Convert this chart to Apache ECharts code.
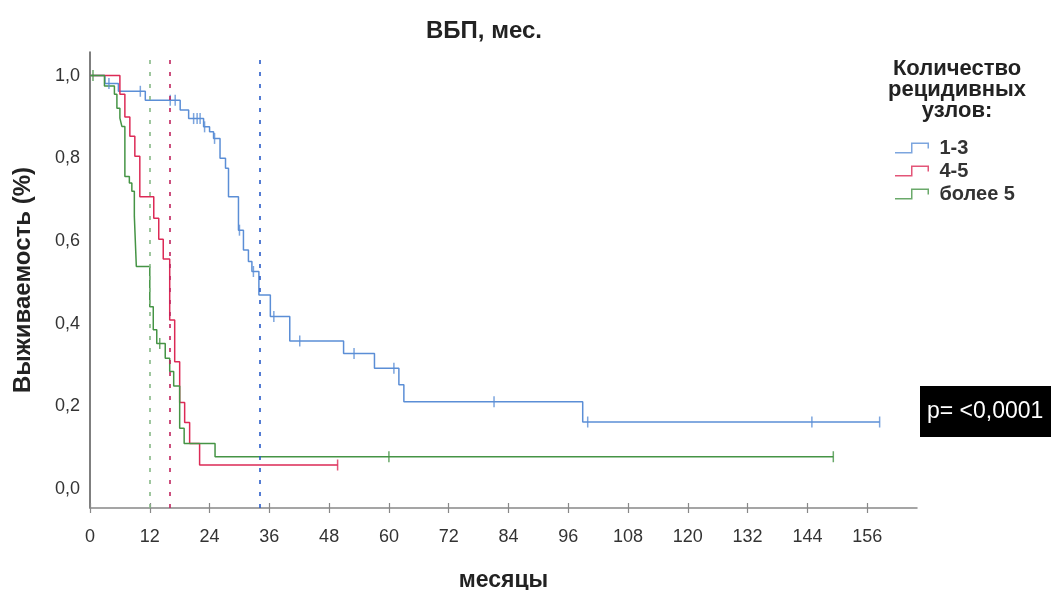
<!DOCTYPE html>
<html><head><meta charset="utf-8">
<script src="https://cdn.jsdelivr.net/npm/echarts@6/dist/echarts.min.js"></script>
<style>html,body{margin:0;padding:0;background:#fff}#c{width:1051px;height:590px}</style>
</head><body><div id="c"></div>
<script>
// ---- data ----
const groupNames = ['1-3', '4-5', 'более 5'];
const xTicks = [0, 12, 24, 36, 48, 60, 72, 84, 96, 108, 120, 132, 144, 156];
const yTicks = [0, 0.2, 0.4, 0.6, 0.8, 1.0];
const medians = [34, 16, 12];
// Kaplan–Meier steps: [months, survival]
const curve13 = [[0,1],[3.0,0.981],[5.7,0.962],[11.1,0.940],[18.1,0.917],[19.8,0.896],[22.8,0.876],[24.0,0.864],[24.8,0.848],[26.1,0.800],[27.2,0.776],[27.8,0.707],[29.8,0.626],[30.8,0.578],[31.8,0.550],[32.5,0.526],[33.9,0.469],[36.2,0.417],[40.1,0.358],[50.9,0.328],[57.1,0.292],[62.0,0.252],[63.0,0.211],[98.9,0.162],[158.5,0.162]];
const censor13 = [3.8,10.1,16.1,17.1,20.8,21.5,22.1,23.0,25.0,30.0,32.8,36.9,42.1,53.0,61.0,81.1,99.9,144.9,158.5];
const curve45 = [[0,1],[6.0,0.955],[7.0,0.900],[8.0,0.853],[9.0,0.805],[10.0,0.707],[12.8,0.655],[13.8,0.604],[14.7,0.556],[16.0,0.409],[17.0,0.308],[18.0,0.209],[19.0,0.161],[20.0,0.110],[22.0,0.058],[49.7,0.058]];
const censor45 = [49.7];
const curve5 = [[0,1],[2.9,0.975],[4.9,0.955],[5.4,0.921],[6.0,0.897],[6.4,0.877],[7.0,0.756],[7.9,0.740],[8.4,0.720],[8.9,0.660],[9.3,0.538],[12.0,0.441],[12.7,0.385],[13.4,0.352],[15.1,0.316],[16.0,0.284],[16.8,0.249],[18.0,0.147],[18.9,0.110],[25.1,0.078],[149.2,0.078]];
const censor5 = [0.6,14.0,60.0,149.2];

const curves = [curve13, curve45, curve5];
const censors = [censor13, censor45, censor5];
const lineColors = ['#5b8ed6', '#dc2a56', '#459445'];
const medianColors = ['#2a5cc8', '#c0245e', '#86b886'];

function survAt(curve, t) {
  let v = curve[0][1];
  for (const p of curve) { if (p[0] <= t) v = p[1]; }
  return v;
}

const FONT = 'Liberation Sans, Arial, sans-serif';
const stepIcon = 'path://M0,9.5 L16,9.5 L16,0 L34,0 L34,6 L32.5,6 L32.5,1.5 L17.5,1.5 L17.5,11 L0,11 Z';

const series = [];
groupNames.forEach((name, i) => {
  series.push({
    name: name,
    type: 'scatter',
    data: censors[i].map(t => [t, survAt(curves[i], t)]),
    symbol: 'rect',
    symbolSize: [1.5, 11],
    itemStyle: { color: lineColors[i] },
    silent: true,
    z: 3
  });
});
groupNames.forEach((name, i) => {
  series.push({
    name: 'km_' + name,
    type: 'line',
    step: 'end',
    data: curves[i],
    showSymbol: false,
    lineStyle: { color: lineColors[i], width: 1.5 },
    itemStyle: { color: lineColors[i] },
    silent: true,
    z: 2,
    markLine: {
      silent: true,
      symbol: ['none', 'none'],
      label: { show: false },
      lineStyle: { color: medianColors[i], type: [4, 8], width: 1.6 },
      data: [{ xAxis: medians[i] }]
    }
  });
});

const chart = echarts.init(document.getElementById('c'), null, { renderer: 'canvas' });
chart.setOption({
  animation: false,
  backgroundColor: '#fff',
  textStyle: { fontFamily: FONT },
  title: [
    { text: 'ВБП, мес.', left: 484, top: 19, padding: 0, textAlign: 'center',
      textStyle: { fontFamily: FONT, fontSize: 24, fontWeight: 'bold', color: '#222' } },
    { text: 'Количество\nрецидивных\nузлов:', left: 957, top: 58, padding: 0, textAlign: 'center',
      textStyle: { fontFamily: FONT, fontSize: 22, fontWeight: 'bold', color: '#222', lineHeight: 21 } },
    { text: 'p= <0,0001', left: 920, top: 386, padding: [14, 8, 14, 7], backgroundColor: '#000',
      textStyle: { fontFamily: FONT, fontSize: 23, fontWeight: 'normal', color: '#fff' } }
  ],
  legend: {
    data: groupNames,
    orient: 'vertical',
    left: 895,
    top: 138,
    padding: 0,
    itemWidth: 35,
    itemHeight: 11,
    itemGap: 3,
    icon: stepIcon,
    selectedMode: false,
    textStyle: { fontFamily: FONT, fontSize: 20, fontWeight: 'bold', color: '#333', lineHeight: 20, padding: [0, 0, 0, 5] }
  },
  grid: { left: 90, right: 134, top: 52, bottom: 82, containLabel: false, outerBoundsMode: 'none' },
  xAxis: [
    {
      type: 'value', min: 0, max: 166, position: 'bottom',
      name: 'месяцы', nameLocation: 'middle', nameGap: 61,
      nameTextStyle: { fontFamily: FONT, fontSize: 23, fontWeight: 'bold', color: '#222' },
      axisLine: { show: true, onZero: false, lineStyle: { color: '#888', width: 1.5 } },
      axisTick: { show: true, customValues: xTicks, length: 5, inside: false, lineStyle: { color: '#888', width: 1.2 } },
      axisLabel: { show: true, customValues: xTicks, margin: 20, fontFamily: FONT, fontSize: 18, color: '#333' },
      splitLine: { show: false }
    },
    {
      type: 'value', min: 0, max: 166, position: 'bottom',
      axisLine: { show: false, onZero: false },
      axisTick: { show: true, customValues: xTicks, length: 5, inside: true, lineStyle: { color: '#888', width: 1.2 } },
      axisLabel: { show: false },
      splitLine: { show: false }
    }
  ],
  yAxis: {
    type: 'value', min: -0.046, max: 1.057,
    name: 'Выживаемость (%)', nameLocation: 'middle', nameGap: 55,
    nameTextStyle: { fontFamily: FONT, fontSize: 24, fontWeight: 'bold', color: '#222' },
    axisLine: { show: true, onZero: false, lineStyle: { color: '#555', width: 1.5 } },
    axisTick: { show: false },
    axisLabel: { show: true, customValues: yTicks, margin: 10, fontFamily: FONT, fontSize: 18, color: '#333',
      formatter: v => v.toFixed(1).replace('.', ',') },
    splitLine: { show: false }
  },
  series: series
});
</script>
</body></html>
